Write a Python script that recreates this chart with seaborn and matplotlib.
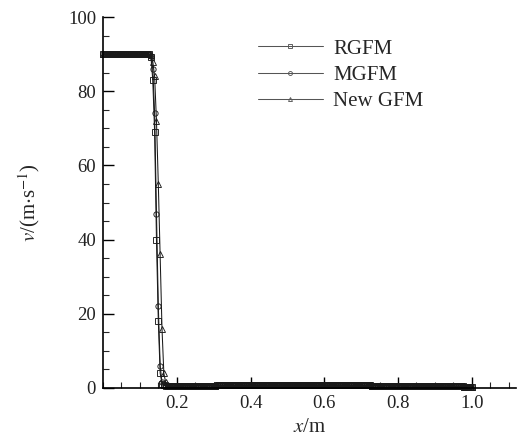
import numpy as np
import pandas as pd
import matplotlib
matplotlib.use("Agg")
import matplotlib.pyplot as plt
import seaborn as sns
from matplotlib.ticker import MultipleLocator, FixedLocator

sns.set_theme(style="ticks")
plt.rcParams['font.family'] = ['Liberation Serif', 'DejaVu Serif']
plt.rcParams['mathtext.fontset'] = 'stix'

# ---- data ----
x_grid = np.round(np.arange(0, 1.0 + 1e-9, 0.005), 3)   # 201 sample positions
plateau = [90.0] * 25                                     # x = 0 .. 0.12
tail = ([0.5]*4 + [0.6]*8 + [0.65]*14 + [0.7]*14 + [0.75]*20 + [0.8]*20
        + [0.75]*15 + [0.7]*15 + [0.65]*13 + [0.6]*12 + [0.55]*10 + [0.5]*10
        + [0.45]*5 + [0.4]*5)                               # x = 0.18 .. 1.0

# transition values at x = 0.125 .. 0.175
rgfm_trans = [90.0, 89.3, 83.0, 69.0, 40.0, 18.0, 4.0, 1.2, 0.8, 0.6, 0.5]
mgfm_trans = [90.0, 89.6, 86.0, 74.0, 47.0, 22.0, 6.0, 1.5, 0.8, 0.6, 0.5]
new_trans  = [90.0, 89.8, 88.0, 84.0, 72.0, 55.0, 36.0, 16.0, 4.0, 1.5, 0.8]

rgfm = plateau + rgfm_trans + tail
mgfm = plateau + mgfm_trans + tail
new_gfm = plateau + new_trans + tail

series_names = ["RGFM", "MGFM", "New GFM"]
series_vals = [rgfm, mgfm, new_gfm]
series_markers = ["s", "o", "^"]

x_ticks = [0.2, 0.4, 0.6, 0.8, 1.0]
x_ticklabels = ["0.2", "0.4", "0.6", "0.8", "1.0"]
y_ticks = [0, 20, 40, 60, 80, 100]

# ---- figure ----
fig = plt.figure(figsize=(5.26, 4.41), dpi=100)
ax = fig.add_axes([103/526, 1 - 388/441, (516-103)/526, (388-17)/441])

for name, vals, mk in zip(series_names, series_vals, series_markers):
    sns.lineplot(x=x_grid, y=vals, ax=ax, label=name, color="#1a1a1a",
                 linewidth=0.75, marker=mk, markersize=3.8,
                 markerfacecolor="none", markeredgecolor="#1a1a1a",
                 markeredgewidth=0.65, estimator=None, sort=False,
                 clip_on=False)

ax.set_xlim(0, 1.12)
ax.set_ylim(0, 100)
ax.xaxis.set_major_locator(FixedLocator(x_ticks))
ax.set_xticklabels(x_ticklabels)
ax.xaxis.set_minor_locator(MultipleLocator(0.05))
ax.yaxis.set_major_locator(FixedLocator(y_ticks))
ax.yaxis.set_minor_locator(MultipleLocator(5))

ax.tick_params(axis='both', which='major', direction='in', length=8, width=1.0,
               labelsize=13.5, colors='black', pad=5)
ax.tick_params(axis='both', which='minor', direction='in', length=4, width=0.8)
for t in ax.get_xticklabels() + ax.get_yticklabels():
    t.set_color('#222222')

for s in ['top', 'right']:
    ax.spines[s].set_visible(False)
for s in ['left', 'bottom']:
    ax.spines[s].set_linewidth(1.2)
    ax.spines[s].set_color('black')

ax.set_xlabel(r"$x$/m", fontsize=15, labelpad=4)
ax.set_ylabel(r"$v$/(m$\cdot$s$^{-1}$)", fontsize=15, labelpad=19)

leg = ax.legend(loc='upper left', bbox_to_anchor=(258/526, 1 - 39/441),
                bbox_transform=fig.transFigure, frameon=False, fontsize=15,
                handlelength=3.1, handletextpad=0.5, labelspacing=0.33,
                borderpad=0, borderaxespad=0, numpoints=1, markerscale=0.75)
for h in leg.legend_handles:
    h.set_color('#555555')
    h.set_markeredgecolor('#555555')

fig.savefig("out.png", dpi=100, facecolor='white')
